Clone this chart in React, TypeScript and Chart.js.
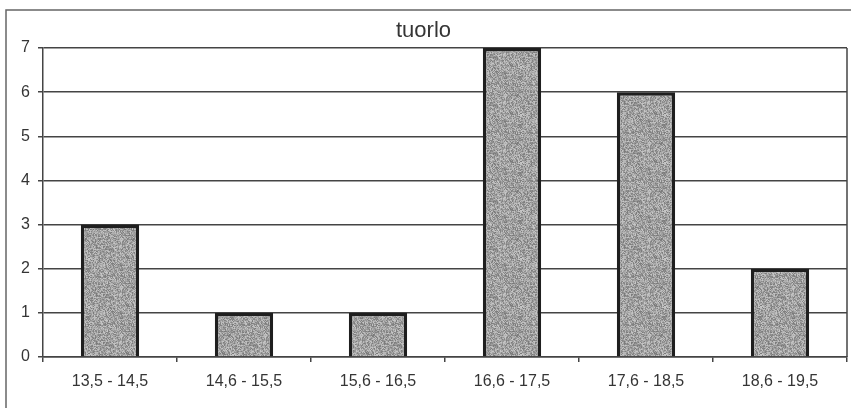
import { useEffect, useRef } from "react";
import { Chart, registerables } from "chart.js";

Chart.register(...registerables);

// Frequency table: yolk ("tuorlo") measurement classes and their counts
const categories = [
  "13,5 - 14,5",
  "14,6 - 15,5",
  "15,6 - 16,5",
  "16,6 - 17,5",
  "17,6 - 18,5",
  "18,6 - 19,5",
];
const counts = [3, 1, 1, 7, 6, 2];
const yMin = 0;
const yMax = 7;
const chartTitle = "tuorlo";

const FONT = "'Liberation Sans', Arial, sans-serif";
const INK = "#353535";
const LINE = "#444444";

// Speckled grey fill for the bars, built from a small deterministic generator
function makeGrain(): CanvasPattern | string {
  const c = document.createElement("canvas");
  c.width = 48;
  c.height = 48;
  const g = c.getContext("2d");
  if (!g) return "#a0a0a0";
  const img = g.createImageData(48, 48);
  let s = 2463534242;
  for (let i = 0; i < 48 * 48; i++) {
    s ^= s << 13;
    s >>>= 0;
    s ^= s >>> 17;
    s ^= s << 5;
    s >>>= 0;
    const v = 122 + (s % 78);
    img.data[i * 4] = v;
    img.data[i * 4 + 1] = v;
    img.data[i * 4 + 2] = v;
    img.data[i * 4 + 3] = 255;
  }
  g.putImageData(img, 0, 0);
  return g.createPattern(c, "repeat") || "#a0a0a0";
}

// Outer chart frame and the right edge of the plot area
const framePlugin = {
  id: "frame",
  beforeDraw(chart: Chart) {
    const ctx = chart.ctx;
    ctx.save();
    ctx.strokeStyle = "#666666";
    ctx.lineWidth = 1.5;
    ctx.beginPath();
    ctx.moveTo(6, chart.height + 2);
    ctx.lineTo(6, 10);
    ctx.lineTo(chart.width + 2, 10);
    ctx.stroke();
    ctx.restore();
  },
  afterDraw(chart: Chart) {
    const { ctx, chartArea } = chart;
    ctx.save();
    ctx.strokeStyle = LINE;
    ctx.lineWidth = 1.5;
    ctx.beginPath();
    ctx.moveTo(chartArea.right, chartArea.top);
    ctx.lineTo(chartArea.right, chartArea.bottom);
    ctx.stroke();
    ctx.restore();
  },
};

export default function App() {
  const ref = useRef<HTMLCanvasElement | null>(null);

  useEffect(() => {
    if (!ref.current) return;
    const chart = new Chart(ref.current, {
      type: "bar",
      data: {
        labels: categories,
        datasets: [
          {
            label: chartTitle,
            data: counts,
            backgroundColor: makeGrain(),
            borderColor: "#1f1f1f",
            borderWidth: 3.5,
            barPercentage: 0.435,
            categoryPercentage: 1,
          },
        ],
      },
      options: {
        responsive: false,
        animation: false,
        layout: { padding: { left: 0, right: 4, top: 0, bottom: 0 } },
        plugins: {
          legend: { display: false },
          tooltip: { enabled: false },
          title: {
            display: true,
            text: chartTitle,
            color: INK,
            font: { family: FONT, size: 22, lineHeight: 1, weight: "normal" },
            padding: { top: 20, bottom: 6 },
          },
        },
        scales: {
          x: {
            grid: {
              offset: true,
              drawOnChartArea: false,
              drawTicks: true,
              tickLength: 5,
              color: LINE,
              lineWidth: 1.5,
            },
            border: { display: true, color: LINE, width: 1.5 },
            ticks: {
              color: INK,
              font: { family: FONT, size: 16 },
              padding: 10,
              maxRotation: 0,
              autoSkip: false,
            },
            afterFit(scale: any) {
              scale.height = 51;
            },
          },
          y: {
            min: yMin,
            max: yMax,
            grid: {
              color: LINE,
              lineWidth: 1.5,
              drawTicks: true,
              tickLength: 5,
            },
            border: { display: true, color: LINE, width: 1.5 },
            ticks: {
              stepSize: 1,
              color: INK,
              font: { family: FONT, size: 16 },
              padding: 8,
            },
            afterFit(scale: any) {
              scale.width = 43;
            },
          },
        },
      },
      plugins: [framePlugin],
    });
    return () => chart.destroy();
  }, []);

  return (
    <div style={{ position: "absolute", left: 0, top: 0, width: 851, height: 408, background: "#fff" }}>
      <canvas ref={ref} width={851} height={408} />
    </div>
  );
}
